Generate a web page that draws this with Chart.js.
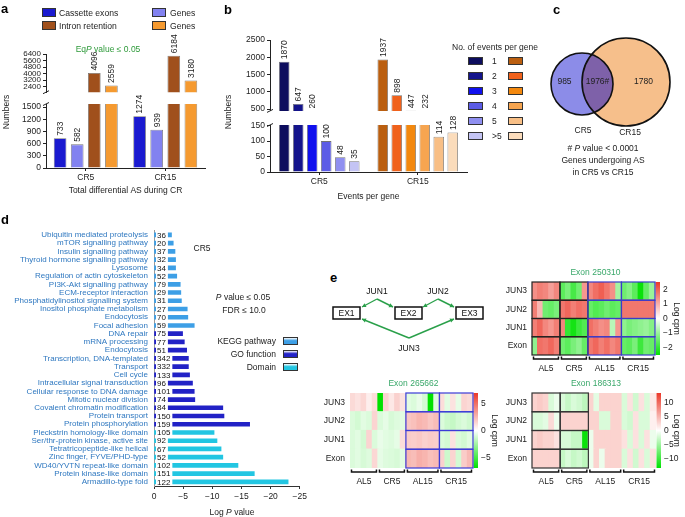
<!DOCTYPE html>
<html>
<head>
<meta charset="utf-8">
<script src="https://cdn.jsdelivr.net/npm/chart.js@4.4.1/dist/chart.umd.min.js"></script>
<style>
body { margin: 0; background: #fff; width: 685px; height: 517px; position: relative; overflow: hidden; font-family: "Liberation Sans", Arial, sans-serif; }
canvas { position: absolute; }
.t { position: absolute; white-space: nowrap; font-size: 8.5px; color: #222; line-height: 1; }
.sw { position: absolute; border: 1px solid #333; box-sizing: border-box; }
</style>
</head>
<body>
<script>
// ---- panel a: total differential AS ----
const groupsA = ['CR5', 'CR15'];
const cassetteExons = [733, 1274];
const cassetteGenes = [582, 939];
const intronRetention = [4096, 6184];
const intronGenes = [2559, 3180];

// ---- panel b: events per gene ----
const groupsB = ['CR5', 'CR15'];
const eventBins = ['1', '2', '3', '4', '5', '>5'];
const eventsCR5 = [1870, 647, 260, 100, 48, 35];
const eventsCR15 = [1937, 898, 447, 232, 114, 128];

// ---- panel c: venn ----
const vennSets = ['CR5', 'CR15'];
const vennCounts = ['985', '1976#', '1780']; // CR5 only, both, CR15 only

// ---- panel d: enrichment ----
const termNames = ['Ubiquitin mediated proteolysis', 'mTOR signalling pathway', 'Insulin signalling pathway',
  'Thyroid hormone signalling pathway', 'Lysosome', 'Regulation of actin cytoskeleton', 'PI3K-Akt signalling pathway',
  'ECM-receptor interaction', 'Phosphatidylinositol signalling system', 'Inositol phosphate metabolism', 'Endocytosis',
  'Focal adhesion', 'DNA repair', 'mRNA processing', 'Endocytosis', 'Transcription, DNA-templated', 'Transport',
  'Cell cycle', 'Intracellular signal transduction', 'Cellular response to DNA damage', 'Mitotic nuclear division',
  'Covalent chromatin modification', 'Protein transport', 'Protein phosphorylation', 'Pleckstrin homology-like domain',
  'Ser/thr-protein kinase, active site', 'Tetratricopeptide-like helical', 'Zinc finger, FYVE/PHD-type',
  'WD40/YVTN repeat-like domain', 'Protein kinase-like domain', 'Armadillo-type fold'];
const termGenes = [36, 20, 37, 32, 34, 52, 79, 29, 31, 27, 70, 59, 75, 77, 51, 342, 332, 133, 96, 101, 74, 84, 150, 159,
  105, 92, 67, 52, 102, 151, 122];
const termLogP = [-3.0, -3.3, -3.6, -3.7, -3.7, -3.9, -4.5, -4.6, -4.7, -5.7, -5.8, -6.9, -4.9, -5.2, -5.6, -5.9, -5.9,
  -6.1, -6.6, -6.9, -7.0, -11.8, -12.0, -16.4, -10.3, -10.8, -11.5, -11.8, -14.4, -17.2, -23.0];
const termType = ['KEGG', 'KEGG', 'KEGG', 'KEGG', 'KEGG', 'KEGG', 'KEGG', 'KEGG', 'KEGG', 'KEGG', 'KEGG', 'KEGG',
  'GO', 'GO', 'GO', 'GO', 'GO', 'GO', 'GO', 'GO', 'GO', 'GO', 'GO', 'GO',
  'Domain', 'Domain', 'Domain', 'Domain', 'Domain', 'Domain', 'Domain'];

// ---- panel e: heatmaps (rows JUN3, JUN2, JUN1, Exon) ----
const heatGroups = ['AL5', 'CR5', 'AL15', 'CR15'];
const samplesPerGroup = [5, 5, 6, 6];
const heatRows = ['JUN3', 'JUN2', 'JUN1', 'Exon'];
const exon250310 = [
  [1.4, 1.6, 1.5, 1.2, 1.5, -1.6, -1.3, -1.8, -1.4, 1.3, 1.5, 1.8, 2.0, 1.7, 1.4, -0.9, -1.4, -1.2, -1.6, -2.4, -1.5, -1.0],
  [1.6, 0.9, -1.4, -1.5, -1.3, 1.7, 1.9, 1.6, 1.8, 1.7, -1.5, -1.7, -1.6, -1.4, -1.6, -1.5, 1.7, 1.7, 1.7, 1.7, 1.7, 1.7],
  [1.6, 1.9, 1.5, 1.3, 1.6, 1.5, -2.0, -2.3, -1.9, -1.7, 1.8, 1.6, 1.4, 1.5, -0.7, 1.3, -1.1, -1.3, -1.2, -1.1, -1.0, -1.2],
  [-1.1, 1.8, 1.7, 1.9, 1.6, -1.4, -1.6, -1.3, -1.1, -1.5, 1.7, 1.9, 1.6, 1.8, 1.5, 1.7, -1.5, -1.6, -1.3, -1.9, -1.4, -1.5]
];
const exon265662 = [
  [1.3, 1.0, 1.4, 0.6, 1.2, -7.0, 1.5, 0.8, 1.6, 1.0, -0.8, -1.0, -0.6, -1.2, -7.0, -0.9, 1.2, -0.8, 1.0, -0.7, 1.5, 1.3],
  [-1.0, -1.2, -0.8, -1.0, 1.5, -1.0, -0.7, -1.1, -0.9, -0.8, 2.0, 2.2, 2.6, 2.4, 2.0, 2.3, -1.0, -1.4, -1.6, -1.2, -1.0, -1.3],
  [-1.0, -0.8, -1.2, 1.5, -1.0, -0.6, -0.8, -0.9, -0.7, 1.2, 1.8, 1.7, 1.9, 1.6, 1.8, 1.7, -1.0, -1.2, 1.0, -1.0, -1.2, -0.8],
  [-1.0, -0.8, -1.1, -0.9, 1.4, -0.7, -0.9, -1.0, -1.1, -0.8, 2.5, 2.3, 2.8, 2.6, 2.2, 2.4, 1.6, -1.4, 1.5, -1.2, 1.8, 2.4]
];
const exon186313 = [
  [3, 3.5, 3, -2, -1, -2, -3, -2, -2.5, -3.5, 3, -1.5, 3, 3, 3, 3, -2, 2, -2.5, 2, -2, 1.5],
  [-2, -2, -1.5, 2.5, -1, 3, 3, 3, 3, 3, 3, 3, -2, -2, 3, 3, -2, -2.5, 2, -2, -2, 1],
  [3, 3.5, 3, 3, 2, -2, -2, -3, -3, -13, -1, 3, 3, 3, 3, 3, 2, -2, 2, -2, 2, -1],
  [3, 3, 3, 3, 3, -3, -2, -3, -2.5, -3.5, -1, 3, -1, 3, 3, 3, -2, 2, -2.5, 2, -2, 2]
];

const FONT = '"Liberation Sans", Arial, sans-serif';
Chart.defaults.font.family = FONT;
Chart.defaults.font.size = 8.5;
Chart.defaults.color = '#222';
Chart.defaults.animation = false;
Chart.defaults.responsive = false;
Chart.defaults.events = [];
Chart.defaults.plugins.legend.display = false;
Chart.defaults.plugins.tooltip.enabled = false;

function makeCanvas(left, top, w, h) {
  const c = document.createElement('canvas');
  c.width = w; c.height = h;
  c.style.left = left + 'px'; c.style.top = top + 'px';
  c.style.width = w + 'px'; c.style.height = h + 'px';
  document.body.appendChild(c);
  return c;
}

function put(html, x, y, opt) {
  opt = opt || {};
  const d = document.createElement('div');
  d.className = 't';
  d.innerHTML = html;
  const tx = opt.align === 'left' ? '0' : opt.align === 'right' ? '-100%' : '-50%';
  d.style.left = x + 'px';
  d.style.top = y + 'px';
  d.style.transform = 'translate(' + tx + ',-50%)' + (opt.rot ? ' rotate(' + opt.rot + 'deg)' : '');
  if (opt.size) d.style.fontSize = opt.size + 'px';
  if (opt.color) d.style.color = opt.color;
  if (opt.bold) d.style.fontWeight = 'bold';
  document.body.appendChild(d);
}

function swatch(x, y, w, h, bg) {
  const d = document.createElement('div');
  d.className = 'sw';
  d.style.left = x + 'px'; d.style.top = y + 'px';
  d.style.width = w + 'px'; d.style.height = h + 'px';
  d.style.background = bg;
  document.body.appendChild(d);
}

// rotated value labels on top of bars
const valueLabels = {
  id: 'valueLabels',
  afterDatasetsDraw(chart, args, opts) {
    const ctx = chart.ctx, area = chart.chartArea;
    ctx.save();
    ctx.font = '8.5px ' + FONT;
    ctx.fillStyle = '#222';
    ctx.textBaseline = 'middle';
    ctx.textAlign = 'left';
    chart.data.datasets.forEach((ds, di) => {
      chart.getDatasetMeta(di).data.forEach((bar, i) => {
        const v = ds.data[i];
        if (v <= opts.lo || v > opts.hi) return;
        ctx.save();
        ctx.translate(bar.x + 0.5, Math.min(bar.y, area.bottom) - 2.5);
        ctx.rotate(-Math.PI / 2);
        ctx.fillText(String(v), 0, 0);
        ctx.restore();
      });
    });
    // small break mark on the y axis
    if (opts.breakAt) {
      const x = chart.scales.y.right, y = opts.breakAt === 'bottom' ? area.bottom : area.top;
      ctx.strokeStyle = '#222'; ctx.lineWidth = 1;
      ctx.beginPath(); ctx.moveTo(x - 3, y + 1.5); ctx.lineTo(x + 3, y - 1.5); ctx.stroke();
    }
    ctx.restore();
  }
};

function brokenBarChart(canvas, labels, datasets, o) {
  return new Chart(canvas, {
    type: 'bar',
    data: { labels: labels, datasets: datasets },
    options: {
      layout: { padding: o.pad },
      datasets: { bar: { categoryPercentage: o.cat, barPercentage: o.bar, borderWidth: 0.8, borderColor: 'rgba(0,0,0,0.55)' } },
      scales: {
        x: o.xTitle ? {
          grid: { drawOnChartArea: false, offset: false, tickLength: 3, color: '#222' },
          border: { color: '#222' },
          ticks: { padding: 2 },
          title: { display: true, text: o.xTitle },
          afterFit: s => { s.height = o.xh; }
        } : { display: false },
        y: {
          min: o.min, max: o.max,
          afterBuildTicks: s => { s.ticks = o.ticks.map(value => ({ value })); },
          grid: { drawOnChartArea: false, tickLength: 3, color: '#222' },
          border: { color: '#222' },
          ticks: { padding: 2, autoSkip: false, font: { size: o.tickSize || 8.5 }, callback: v => String(v) },
          afterFit: s => { s.width = o.yw; }
        }
      },
      plugins: { valueLabels: { lo: o.lo, hi: o.hi, breakAt: o.breakAt } }
    },
    plugins: [valueLabels]
  });
}

// ===== panel a =====
const colA = ['#1a1ad0', '#8282f0', '#a0501c', '#f59a30'];
function dsA() {
  return [
    { label: 'Cassette exons', data: cassetteExons, backgroundColor: colA[0] },
    { label: 'Genes', data: cassetteGenes, backgroundColor: colA[1] },
    { label: 'Intron retention', data: intronRetention, backgroundColor: colA[2] },
    { label: 'Genes', data: intronGenes, backgroundColor: colA[3] }
  ];
}
const aLowMax = 1574;
brokenBarChart(makeCanvas(0, 5, 215, 94), groupsA, dsA(), {
  pad: { top: 49, right: 10, bottom: 2, left: 0 }, cat: 0.86, bar: 0.74, tickSize: 8,
  min: 1750, max: 6400, ticks: [2400, 3200, 4000, 4800, 5600, 6400], yw: 46, lo: aLowMax, hi: Infinity,
  breakAt: 'bottom'
});
brokenBarChart(makeCanvas(0, 79, 215, 121), groupsA, dsA(), {
  pad: { top: 25, right: 10, bottom: 0, left: 0 }, cat: 0.86, bar: 0.74,
  min: 0, max: aLowMax, ticks: [0, 300, 600, 900, 1200, 1500], yw: 46, lo: -Infinity, hi: aLowMax,
  xTitle: 'Total differential AS during CR', xh: 32, breakAt: 'top'
});

// ===== panel b =====
const bluesB = ['#0d0d5e', '#14148c', '#1010ee', '#5c5ce6', '#8f8ff0', '#c4c4f4'];
const orangesB = ['#bb5f10', '#f0621c', '#f3880e', '#f6a550', '#f8bf86', '#fbdcbb'];
function dsB() {
  return eventBins.map((bin, i) => ({
    label: bin,
    data: [eventsCR5[i], eventsCR15[i]],
    backgroundColor: [bluesB[i], orangesB[i]]
  }));
}
const bLowMax = 152;
brokenBarChart(makeCanvas(225, 20, 250, 98), groupsB, dsB(), {
  pad: { top: 20, right: 8, bottom: 2, left: 0 }, cat: 0.853, bar: 0.75,
  min: 446, max: 2500, ticks: [500, 1000, 1500, 2000, 2500], yw: 45, lo: bLowMax, hi: Infinity,
  breakAt: 'bottom'
});
brokenBarChart(makeCanvas(225, 98, 250, 108), groupsB, dsB(), {
  pad: { top: 27, right: 8, bottom: 0, left: 0 }, cat: 0.853, bar: 0.75,
  min: 0, max: bLowMax, ticks: [0, 50, 100, 150], yw: 45, lo: -Infinity, hi: bLowMax,
  xTitle: 'Events per gene', xh: 34, breakAt: 'top'
});

// ===== panel c =====
const vennPlugin = {
  id: 'vennPlugin',
  afterDatasetsDraw(chart) {
    const ctx = chart.ctx;
    const [R, L] = chart.getDatasetMeta(0).data;
    const rR = R.options.radius, rL = L.options.radius;
    ctx.save();
    ctx.beginPath(); ctx.arc(R.x, R.y, rR, 0, Math.PI * 2); ctx.clip();
    ctx.beginPath(); ctx.arc(L.x, L.y, rL, 0, Math.PI * 2);
    ctx.fillStyle = '#7e61a9'; ctx.fill();
    ctx.restore();
    ctx.save();
    ctx.lineWidth = 1.6; ctx.strokeStyle = '#111';
    [[R, rR], [L, rL]].forEach(([p, r]) => { ctx.beginPath(); ctx.arc(p.x, p.y, r, 0, Math.PI * 2); ctx.stroke(); });
    ctx.font = '8.5px ' + FONT; ctx.fillStyle = '#222';
    ctx.textAlign = 'center'; ctx.textBaseline = 'middle';
    const xs = [(L.x - rL + R.x - rR) / 2 - 2, (R.x - rR + L.x + rL) / 2, (L.x + rL + R.x + rR) / 2 + 2];
    vennCounts.forEach((t, i) => ctx.fillText(t, xs[i], R.y));
    ctx.fillText(vennSets[0], L.x + 1, L.y + rL + 16);
    ctx.fillText(vennSets[1], R.x + 4, R.y + rR + 7);
    ctx.restore();
  }
};
new Chart(makeCanvas(540, 30, 145, 115), {
  type: 'bubble',
  data: {
    datasets: [{
      data: [{ x: 86, y: 52, r: 44 }, { x: 42, y: 54, r: 31 }],
      backgroundColor: ['#f6bf8b', '#8c8ce8'],
      borderWidth: 0,
      clip: false
    }]
  },
  options: {
    layout: { padding: 0, autoPadding: false },
    scales: { x: { display: false, min: 0, max: 145 }, y: { display: false, min: 0, max: 115, reverse: true } }
  },
  plugins: [vennPlugin]
});

// ===== panel d =====
const typeColor = { KEGG: '#3d9fe6', GO: '#2222c6', Domain: '#22c6e2' };
const countLabels = {
  id: 'countLabels',
  afterDatasetsDraw(chart) {
    const ctx = chart.ctx, x0 = chart.scales.x.getPixelForValue(0);
    ctx.save();
    ctx.font = '8px ' + FONT; ctx.textBaseline = 'middle'; ctx.textAlign = 'left';
    chart.getDatasetMeta(0).data.forEach((bar, i) => {
      const t = String(termGenes[i]);
      const w = ctx.measureText(t).width;
      ctx.fillStyle = '#fff';
      ctx.fillRect(x0 + 2, bar.y - 4, w + 3, 8);
      ctx.fillStyle = '#111';
      ctx.fillText(t, x0 + 3, bar.y + 0.5);
    });
    ctx.restore();
  }
};
new Chart(makeCanvas(0, 220, 310, 297), {
  type: 'bar',
  data: {
    labels: termNames,
    datasets: [{ data: termLogP, backgroundColor: termType.map(t => typeColor[t]), barThickness: 4 }]
  },
  options: {
    indexAxis: 'y',
    layout: { padding: { top: 7, right: 4, bottom: 0, left: 0 } },
    scales: {
      x: {
        min: -25, max: 0, reverse: true,
        ticks: { stepSize: 5, maxRotation: 0, padding: 3, callback: v => v === 0 ? '0' : '\u2212' + Math.abs(v) },
        grid: { drawOnChartArea: false, tickLength: 3, color: '#333' },
        border: { color: '#333' },
        afterFit: s => { s.height = 31; }
      },
      y: {
        ticks: { color: '#2f78c0', font: { size: 8 }, autoSkip: false, padding: 6 },
        grid: { display: false, drawTicks: false },
        border: { color: '#999' },
        afterFit: s => { s.width = 154; }
      }
    }
  },
  plugins: [countLabels]
});

// ===== panel e: splicing diagram =====
const spliceDiagram = {
  id: 'spliceDiagram',
  afterDraw(chart) {
    const ctx = chart.ctx, green = '#2aa04a';
    const arrow = (x1, y1, x2, y2) => {
      ctx.beginPath(); ctx.moveTo(x1, y1); ctx.lineTo(x2, y2); ctx.stroke();
      const a = Math.atan2(y2 - y1, x2 - x1), s = 4.5;
      ctx.beginPath();
      ctx.moveTo(x2, y2);
      ctx.lineTo(x2 - s * Math.cos(a - 0.5), y2 - s * Math.sin(a - 0.5));
      ctx.lineTo(x2 - s * Math.cos(a + 0.5), y2 - s * Math.sin(a + 0.5));
      ctx.closePath(); ctx.fill();
    };
    ctx.save();
    ctx.font = '8.5px ' + FONT; ctx.textAlign = 'center'; ctx.textBaseline = 'middle';
    ctx.lineWidth = 1.5; ctx.strokeStyle = '#111'; ctx.fillStyle = '#111';
    [['EX1', 3], ['EX2', 65], ['EX3', 126]].forEach(([n, x]) => {
      ctx.strokeRect(x, 22, 27, 12);
      ctx.fillText(n, x + 13.5, 28.5);
    });
    ctx.fillText('JUN1', 47, 7);
    ctx.fillText('JUN2', 108, 7);
    ctx.fillText('JUN3', 79, 64);
    ctx.strokeStyle = green; ctx.fillStyle = green; ctx.lineWidth = 1.4;
    arrow(47, 14, 32, 22); arrow(47, 14, 63, 22);
    arrow(108, 14, 93, 22); arrow(108, 14, 124, 22);
    arrow(79, 53, 32, 34); arrow(79, 53, 124, 34);
    ctx.restore();
  }
};
new Chart(makeCanvas(330, 285, 160, 72), {
  type: 'scatter',
  data: { datasets: [] },
  options: { layout: { padding: 0 }, scales: { x: { display: false }, y: { display: false } } },
  plugins: [spliceDiagram]
});

// ===== panel e: heatmaps =====
function heatColor(v, vmax) {
  const t = Math.max(-1, Math.min(1, v / vmax));
  const end = t >= 0 ? [235, 55, 40] : [0, 225, 0];
  const k = Math.abs(t);
  const c = end.map(e => Math.round(255 + (e - 255) * k));
  return 'rgb(' + c.join(',') + ')';
}

const heatDecor = {
  id: 'heatDecor',
  afterDatasetsDraw(chart, args, o) {
    const ctx = chart.ctx, a = chart.chartArea, ys = chart.scales.y;
    const slot = (a.right - a.left) / o.ncol;
    ctx.save();
    // colour bar
    const g = ctx.createLinearGradient(0, a.top, 0, a.bottom);
    g.addColorStop(0, heatColor(o.vmax, o.vmax));
    g.addColorStop(0.5, '#ffffff');
    g.addColorStop(1, heatColor(-o.vmax, o.vmax));
    ctx.fillStyle = g;
    ctx.fillRect(a.right + 0.5, a.top, 4.5, a.bottom - a.top);
    // group edges
    const edges = [0];
    samplesPerGroup.forEach(n => edges.push(edges[edges.length - 1] + n));
    // boxes
    ctx.lineWidth = 1.2;
    o.boxes.forEach(b => {
      ctx.strokeStyle = b.color;
      b.groups.forEach(gi => {
        const x1 = a.left + edges[gi] * slot, x2 = a.left + edges[gi + 1] * slot;
        for (let r = 0; r < 4; r++) {
          const y1 = ys.getPixelForValue(r + 1), y2 = ys.getPixelForValue(r);
          ctx.strokeRect(x1, y1, x2 - x1, y2 - y1);
        }
      });
    });
    // brackets + group names
    ctx.strokeStyle = '#111'; ctx.fillStyle = '#222'; ctx.lineWidth = 1.5;
    ctx.font = '8.5px ' + FONT; ctx.textAlign = 'center'; ctx.textBaseline = 'middle';
    heatGroups.forEach((name, gi) => {
      const x1 = a.left + edges[gi] * slot + 1.5, x2 = a.left + edges[gi + 1] * slot - 1.5;
      const yb = a.bottom + 4;
      ctx.beginPath();
      ctx.moveTo(x1, yb - 2.5); ctx.lineTo(x1, yb); ctx.lineTo(x2, yb); ctx.lineTo(x2, yb - 2.5);
      ctx.stroke();
      ctx.fillText(name, (x1 + x2) / 2, a.bottom + 13.5);
    });
    // title
    ctx.fillStyle = '#3aa86a';
    ctx.fillText(o.title, (a.left + a.right) / 2 + 2, a.top - 9);
    ctx.restore();
  }
};

function heatmap(canvas, title, rows, vmax, cbTicks, boxes, yw, cw, pad) {
  const ncol = rows[0].length;
  const datasets = rows.slice().reverse().map((vals, k) => ({
    label: heatRows[heatRows.length - 1 - k],
    data: vals.map(() => 1),
    backgroundColor: vals.map(v => heatColor(v, vmax)),
    borderWidth: 0,
    inflateAmount: 0.6,
    categoryPercentage: 1,
    barPercentage: 1,
    yAxisID: 'y'
  }));
  return new Chart(canvas, {
    type: 'bar',
    data: { labels: rows[0].map((_, i) => String(i)), datasets: datasets },
    options: {
      layout: { padding: pad },
      scales: {
        x: { display: false, stacked: true },
        y: {
          stacked: true, min: 0, max: 4,
          afterBuildTicks: s => { s.ticks = [0.5, 1.5, 2.5, 3.5].map(value => ({ value })); },
          ticks: { padding: 5, callback: v => heatRows[3 - Math.floor(v)] },
          grid: { display: false, drawTicks: false }, border: { display: false },
          afterFit: s => { s.width = yw; }
        },
        yc: {
          position: 'right', min: -vmax, max: vmax,
          afterBuildTicks: s => { s.ticks = cbTicks.map(value => ({ value })); },
          ticks: { padding: 8, callback: v => v < 0 ? '\u2212' + (-v) : String(v) },
          grid: { display: false, drawTicks: false }, border: { display: false },
          title: { display: true, text: 'Log cpm' },
          afterFit: s => { s.width = cw; }
        }
      },
      plugins: { heatDecor: { vmax: vmax, ncol: ncol, boxes: boxes, title: title } }
    },
    plugins: [heatDecor]
  });
}

heatmap(makeCanvas(495, 262, 190, 116), 'Exon 250310', exon250310, 2.5, [2, 1, 0, -1, -2],
  [{ groups: [0, 1], color: '#222' }, { groups: [2, 3], color: '#3b3bc8' }], 37, 30,
  { top: 20, bottom: 23, left: 0, right: 0 });
heatmap(makeCanvas(318, 375, 185, 115), 'Exon 265662', exon265662, 7, [5, 0, -5],
  [{ groups: [2, 3], color: '#3b3bd8' }], 32, 30,
  { top: 18, bottom: 22, left: 0, right: 0 });
heatmap(makeCanvas(495, 375, 190, 115), 'Exon 186313', exon186313, 13.5, [10, 5, 0, -5, -10],
  [{ groups: [0, 1], color: '#333' }], 37, 29,
  { top: 18, bottom: 22, left: 0, right: 0 });

// ===== html text: panel letters, legends, notes =====
put('a', 1, 8, { align: 'left', size: 13, bold: true, color: '#000' });
put('b', 224, 9, { align: 'left', size: 13, bold: true, color: '#000' });
put('c', 553, 9, { align: 'left', size: 13, bold: true, color: '#000' });
put('d', 1, 219, { align: 'left', size: 13, bold: true, color: '#000' });
put('e', 330, 277, { align: 'left', size: 13, bold: true, color: '#000' });

// a legend + notes
swatch(42, 8, 14, 9, colA[0]); put('Cassette exons', 59, 12.5, { align: 'left', size: 8.6 });
swatch(42, 21, 14, 9, colA[2]); put('Intron retention', 59, 26, { align: 'left', size: 8.6 });
swatch(152, 8, 14, 9, colA[1]); put('Genes', 170, 12.5, { align: 'left', size: 8.6 });
swatch(152, 21, 14, 9, colA[3]); put('Genes', 170, 26, { align: 'left', size: 8.6 });
put('Eq<i>P</i> value \u2264 0.05', 108, 49, { color: '#2e9a3a' });
put('Numbers', 6, 112, { rot: -90 });

// b legend
put('Numbers', 228, 112, { rot: -90 });
put('No. of events per gene', 452, 47, { align: 'left' });
eventBins.forEach((bin, i) => {
  const y = 57 + i * 15;
  swatch(468, y, 15, 8, bluesB[i]);
  put(bin.replace('>', '&gt;'), 492, y + 4, { align: 'left' });
  swatch(508, y, 15, 8, orangesB[i]);
});

// c notes
put('# <i>P</i> value &lt; 0.0001', 603, 148);
put('Genes undergoing AS', 603, 160);
put('in CR5 vs CR15', 603, 172);

// d notes + legend
put('CR5', 202, 248, { align: 'center' });
put('<i>P</i> value \u2264 0.05', 243, 297);
put('FDR \u2264 10.0', 244, 310);
put('Log <i>P</i> value', 232, 512);
[['KEGG pathway', 'KEGG', 341], ['GO function', 'GO', 354], ['Domain', 'Domain', 367]].forEach(([txt, t, y]) => {
  put(txt, 276, y, { align: 'right' });
  swatch(283, y - 4, 15, 8, 'linear-gradient(#fff 0%, ' + typeColor[t] + ' 45%, ' + typeColor[t] + ' 100%)');
});
</script>
</body>
</html>
